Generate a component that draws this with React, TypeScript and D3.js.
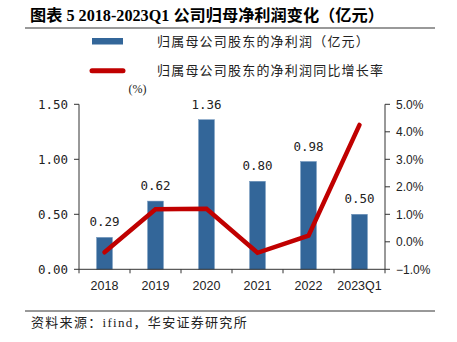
import React from "react";
import * as d3 from "d3";

const categories = ["2018", "2019", "2020", "2021", "2022", "2023Q1"];
const profit = [0.29, 0.62, 1.36, 0.8, 0.98, 0.5];
const growth = [-0.38, 1.18, 1.2, -0.4, 0.22, 4.25];
const leftTicks = [0, 0.5, 1.0, 1.5];
const rightTicks = [-1, 0, 1, 2, 3, 4, 5];

const title = "图表 5 2018-2023Q1 公司归母净利润变化（亿元）";
const legendBar = "归属母公司股东的净利润（亿元）";
const legendLine = "归属母公司股东的净利润同比增长率";
const source = "资料来源：ifind，华安证券研究所";

const BLUE = "#336699";
const RED = "#C00000";
const CJK = "'Noto Sans CJK SC', sans-serif";
const MONO = "'DejaVu Sans Mono', 'Noto Sans CJK SC', monospace";
const SANS = "'Liberation Sans', Arial, sans-serif";

export default function App() {
  const W = 457, H = 342;
  const x0 = 79, x1 = 385, yTop = 104.3, yBot = 269.3;
  const x = d3.scaleBand<string>().domain(categories).range([x0, x1]).padding(0);
  const yL = d3.scaleLinear().domain([0, 1.5]).range([yBot, yTop]);
  const yR = d3.scaleLinear().domain([-1, 5]).range([yBot, yTop]);
  const bw = x.bandwidth() * 0.31;
  const cx = (c: string) => (x(c) as number) + x.bandwidth() / 2;
  const line = d3
    .line<number>()
    .x((_, i) => cx(categories[i]))
    .y((d) => yR(d));

  const boundaries = categories.map((c) => x(c) as number).concat([x1]);

  return (
    <svg width={W} height={H} style={{ position: "absolute", left: 0, top: 0, background: "#fff" }}>
      <text x={30} y={21} fontFamily={"'Liberation Serif', 'Noto Sans CJK SC', serif"} fontWeight="bold" fontSize={16.2} fill="#000">
        {title}
      </text>
      <line x1={25} x2={435} y1={28} y2={28} stroke="#999" strokeWidth={1.8} />

      {/* legend */}
      <rect x={92} y={38} width={31} height={6.5} fill={BLUE} />
      <text x={157} y={46} fontFamily={CJK} fontSize={13} letterSpacing={1.2} fill="#222">{legendBar}</text>
      <line x1={92} x2={123} y1={70.7} y2={70.7} stroke={RED} strokeWidth={5} strokeLinecap="round" />
      <text x={157} y={75} fontFamily={CJK} fontSize={13} letterSpacing={1.2} fill="#222">{legendLine}</text>
      <text x={137.5} y={93} textAnchor="middle" fontFamily={"'Liberation Serif', serif"} fontSize={12} fill="#222">(%)</text>

      {/* bars */}
      {profit.map((v, i) => (
        <rect key={i} x={cx(categories[i]) - bw / 2} y={yL(v)} width={bw} height={yBot - yL(v)} fill={BLUE} stroke="#6f93bb" strokeWidth={0.5} />
      ))}
      {profit.map((v, i) => (
        <text key={"l" + i} x={cx(categories[i])} y={yL(v) - 11} textAnchor="middle" fontFamily={MONO} fontSize={12.5} fill="#222">
          {v.toFixed(2)}
        </text>
      ))}

      {/* axes */}
      <line x1={x0} x2={x0} y1={yTop} y2={yBot} stroke="#333" strokeWidth={1} />
      {leftTicks.map((t) => (
        <g key={t}>
          <line x1={x0 - 5} x2={x0} y1={yL(t)} y2={yL(t)} stroke="#333" />
          <text x={68} y={yL(t) + 4.5} textAnchor="end" fontFamily={MONO} fontSize={12.5} fill="#222">
            {t.toFixed(2)}
          </text>
        </g>
      ))}
      <line x1={x1} x2={x1} y1={yTop} y2={yBot} stroke="#333" strokeWidth={1} />
      {rightTicks.map((t) => (
        <g key={t}>
          <line x1={x1} x2={x1 + 5} y1={yR(t)} y2={yR(t)} stroke="#333" />
          <text x={396} y={yR(t) + 4.5} fontFamily={SANS} fontSize={12} fill="#222">
            {(t < 0 ? "−" : "") + Math.abs(t).toFixed(1) + "%"}
          </text>
        </g>
      ))}
      <line x1={x0} x2={x1} y1={yBot} y2={yBot} stroke="#333" strokeWidth={1} />
      {boundaries.map((b, i) => (
        <line key={i} x1={b} x2={b} y1={yBot} y2={yBot + 4} stroke="#333" />
      ))}
      {categories.map((c) => (
        <text key={c} x={cx(c)} y={290} textAnchor="middle" fontFamily={SANS} fontSize={12.5} fill="#222">{c}</text>
      ))}

      {/* growth line */}
      <path d={line(growth) || ""} fill="none" stroke={RED} strokeWidth={4.5} strokeLinecap="round" strokeLinejoin="miter" />

      <line x1={25} x2={435} y1={311} y2={311} stroke="#333" strokeWidth={1} />
      <text x={31} y={327} fontFamily={"'Liberation Serif', 'Noto Sans CJK SC', serif"} fontSize={13} letterSpacing={1.3} fill="#222">{source}</text>
    </svg>
  );
}
